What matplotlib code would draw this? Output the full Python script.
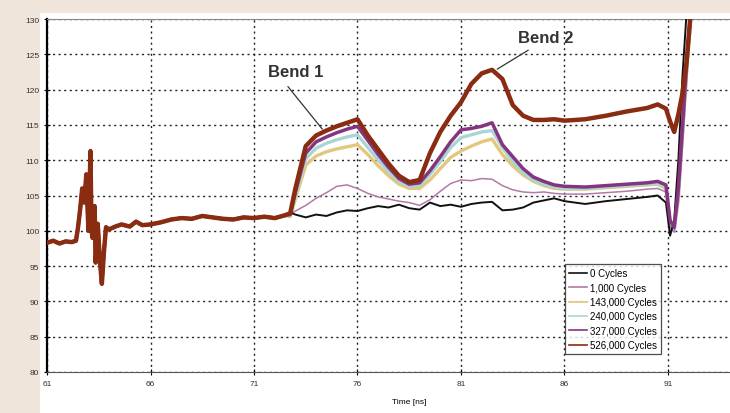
import matplotlib
matplotlib.use("Agg")
import matplotlib.pyplot as plt
from matplotlib.patches import Rectangle

plt.rcParams['font.family'] = ['Liberation Sans', 'DejaVu Sans']

# shared part of every trace (before the bends)
t_start = [61.0, 61.3, 61.6, 61.9, 62.2, 62.4, 62.5, 62.6, 62.7, 62.8, 62.9, 63.0,
           63.05, 63.1, 63.15, 63.2, 63.3, 63.35, 63.45, 63.55, 63.65, 63.75, 63.85,
           64.0, 64.3, 64.6, 65.0, 65.3, 65.6, 66.0, 66.5, 67.0, 67.5, 68.0, 68.5,
           69.0, 69.5, 70.0, 70.5, 71.0, 71.5, 72.0, 72.5]
v_start = [98.3, 98.6, 98.2, 98.5, 98.4, 98.6, 100.5, 103.0, 106.0, 104.0, 108.0, 100.0,
           105.0, 111.3, 100.0, 99.0, 103.5, 95.5, 101.0, 96.0, 92.5, 97.0, 100.5,
           100.2, 100.6, 100.9, 100.6, 101.3, 100.8, 100.9, 101.2, 101.6, 101.8, 101.7, 102.1,
           101.9, 101.7, 101.6, 101.9, 101.8, 102.0, 101.8, 102.2]

t_tail = [72.75, 73.0, 73.5, 74.0, 74.5, 75.0, 75.5, 76.0, 76.5, 77.0, 77.5, 78.0,
          78.5, 79.0, 79.5, 80.0, 80.5, 81.0, 81.5, 82.0, 82.5, 83.0, 83.5, 84.0,
          84.5, 85.0, 85.5, 86.0, 87.0, 88.0, 89.0, 90.0, 90.5, 90.9, 91.1, 91.3,
          91.5, 91.7, 91.9, 92.1, 92.3]

c0 = [102.6, 102.3, 101.9, 102.3, 102.1, 102.6, 102.9, 102.8, 103.2, 103.5, 103.3, 103.7,
      103.2, 103.0, 104.0, 103.5, 103.7, 103.4, 103.8, 104.0, 104.1, 102.9, 103.0, 103.3,
      104.0, 104.3, 104.6, 104.2, 103.8, 104.2, 104.5, 104.8, 105.0, 104.0, 99.3, 101.5,
      110.0, 122.0, 131.0, 136.0, 138.0]
c1000 = [102.4, 102.8, 103.6, 104.6, 105.4, 106.3, 106.5, 106.0, 105.3, 104.8, 104.5, 104.2,
         104.0, 103.6, 104.4, 105.6, 106.7, 107.2, 107.1, 107.4, 107.3, 106.4, 105.8, 105.5,
         105.4, 105.5, 105.3, 105.2, 105.2, 105.4, 105.6, 105.9, 106.0, 105.5, 100.5, 99.8,
         104.0, 112.0, 121.0, 129.5, 136.0]
c143k = [102.0, 104.5, 109.3, 110.6, 111.2, 111.6, 111.9, 112.2, 110.8, 109.2, 107.8, 106.6,
         106.0, 106.0, 107.2, 108.8, 110.4, 111.3, 112.0, 112.6, 113.0, 110.8, 109.2, 107.9,
         107.0, 106.4, 106.0, 105.9, 105.9, 106.1, 106.3, 106.5, 106.6, 106.0, 100.8, 100.2,
         104.5, 113.5, 122.5, 130.0, 136.0]
c240k = [102.2, 105.0, 110.2, 111.7, 112.4, 112.9, 113.3, 113.6, 111.8, 110.0, 108.4, 107.0,
         106.3, 106.4, 108.0, 109.8, 111.8, 113.2, 113.6, 114.0, 114.2, 111.8, 109.8, 108.2,
         107.2, 106.6, 106.2, 106.0, 106.0, 106.2, 106.4, 106.6, 106.7, 106.2, 101.0, 100.0,
         105.0, 114.0, 123.0, 130.5, 136.0]
c327k = [102.3, 105.5, 111.0, 112.6, 113.3, 113.9, 114.4, 114.8, 112.8, 110.8, 109.0, 107.4,
         106.6, 106.8, 108.5, 110.5, 112.6, 114.3, 114.5, 114.8, 115.3, 112.2, 110.5, 108.8,
         107.6, 107.0, 106.5, 106.3, 106.2, 106.4, 106.6, 106.8, 107.0, 106.5, 101.5, 100.5,
         106.0, 115.0, 124.0, 131.0, 136.0]
c526k = [102.5, 106.0, 112.0, 113.5, 114.2, 114.8, 115.3, 115.8, 113.5, 111.5, 109.5, 107.8,
         106.9, 107.2, 111.0, 114.0, 116.3, 118.2, 120.8, 122.3, 122.8, 121.5, 117.8, 116.3,
         115.7, 115.7, 115.8, 115.6, 115.8, 116.3, 116.9, 117.4, 117.9, 117.3, 115.5, 114.0,
         116.5, 119.5, 124.0, 131.0, 136.0]

labels = ["0 Cycles", "1,000 Cycles", "143,000 Cycles", "240,000 Cycles",
          "327,000 Cycles", "526,000 Cycles"]
series = [c0, c1000, c143k, c240k, c327k, c526k]
colors = ["#111111", "#b27aa6", "#e2c77c", "#a9d6d4", "#85357f", "#8a2c12"]
widths = [1.4, 1.1, 2.4, 2.4, 2.5, 3.2]
zorders = [5, 4, 2, 3, 6, 7]

fig = plt.figure(figsize=(7.3, 4.14), dpi=100, facecolor="#efe5da")
fig.add_artist(Rectangle((40 / 730, 0), 1, 1 - 14 / 414, transform=fig.transFigure,
                         facecolor="white", edgecolor="none", zorder=0))
ax = fig.add_axes([47 / 730, 1 - 373 / 414, 724.5 / 730, 353 / 414])
ax.set_facecolor("white")

for vals, lab, col, lw, z in zip(series, labels, colors, widths, zorders):
    ax.plot(t_start + t_tail, v_start + vals, color=col, lw=lw, label=lab, zorder=z,
            solid_joinstyle="round")

ax.set_xlim(61, 96)
ax.set_ylim(80, 130)
ax.set_xticks(range(61, 92, 5))
ax.set_xticks([96], minor=True)
ax.set_yticks(range(80, 131, 5))
ax.grid(True, which="both", color="#222222", linestyle=(0, (1.5, 2.5)), linewidth=1.0)
ax.set_axisbelow(True)
ax.tick_params(labelsize=6, labelcolor="#333333", direction="inout", length=4, width=0.8)
ax.tick_params(which="minor", length=0)
ax.spines["right"].set_visible(False)
ax.spines["left"].set_linewidth(1.6)
ax.spines["top"].set_color("#888888")
ax.spines["bottom"].set_color("#555555")
ax.set_xlabel("Time [ns]", fontsize=6, labelpad=8)

ax.annotate("Bend 1", xy=(74.3, 114.4), xytext=(73.03, 122.5), ha="center", va="center",
            fontsize=12, fontweight="bold", color="#333333",
            arrowprops=dict(arrowstyle="-", color="#333333", lw=0.9, relpos=(0.25, 0),
                            shrinkA=4, shrinkB=0))
ax.annotate("Bend 2", xy=(82.75, 122.9), xytext=(85.1, 127.45), ha="center", va="center",
            fontsize=12, fontweight="bold", color="#333333",
            arrowprops=dict(arrowstyle="-", color="#333333", lw=0.9, relpos=(0.35, 0),
                            shrinkA=4, shrinkB=0))

leg = ax.legend(loc="lower right", bbox_to_anchor=(0.847, 0.051), fontsize=7,
                frameon=True, fancybox=False, edgecolor="#222222", handlelength=1.8,
                handletextpad=0.3, borderpad=0.4, labelspacing=0.45, borderaxespad=0)
leg.get_frame().set_linewidth(0.9)
for h in leg.get_lines():
    h.set_linewidth(1.2)
leg.set_zorder(10)

fig.savefig("out.png", dpi=100, facecolor=fig.get_facecolor())
